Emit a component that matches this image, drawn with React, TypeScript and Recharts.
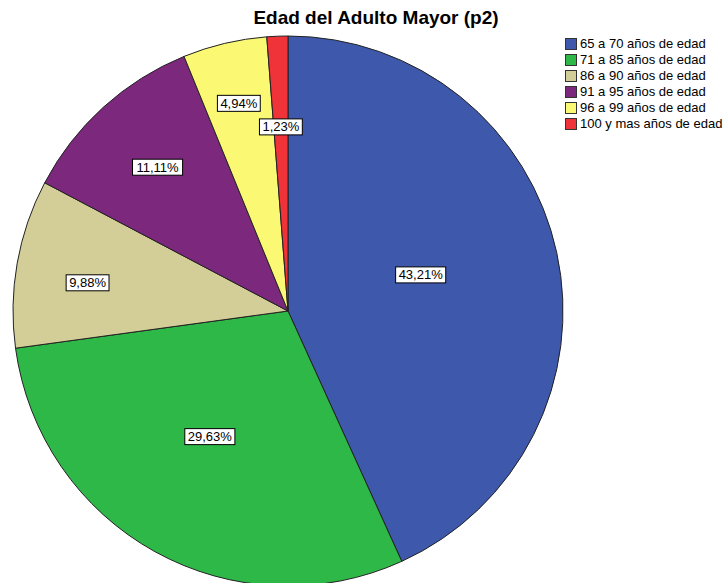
import { PieChart, Pie, Cell, Legend } from "recharts";

const categories = [
  "65 a 70 años de edad",
  "71 a 85 años de edad",
  "86 a 90 años de edad",
  "91 a 95 años de edad",
  "96 a 99 años de edad",
  "100 y mas años de edad",
];
const percents = [43.21, 29.63, 9.88, 11.11, 4.94, 1.23];
const colors = ["#3E58AC", "#2EB848", "#D3CE97", "#7C287D", "#FBF873", "#EF3338"];

// label placement: fraction of radius and small angle nudge (deg, counter-clockwise)
const labelRadius = [0.5, 0.538, 0.736, 0.706, 0.776, 0.67];
const labelNudge = [3, -3, 2, 0, 0, 0];

const data = categories.map((name, i) => ({ name, value: percents[i] }));

const RADIAN = Math.PI / 180;
const fmt = (v: number) => v.toFixed(2).replace(".", ",") + "%";
const FONT = "Liberation Sans, Arial, sans-serif";

function textWidth(s: string) {
  let w = 0;
  for (const ch of s) w += ch === "," ? 3.61 : ch === "%" ? 11.56 : 7.23;
  return w;
}

function SliceLabel(props: any) {
  const { cx, cy, midAngle, outerRadius, index, value } = props;
  const r = outerRadius * labelRadius[index];
  const a = (midAngle + labelNudge[index]) * RADIAN;
  const x = cx + r * Math.cos(-a);
  const y = cy + r * Math.sin(-a);
  const txt = fmt(value);
  const w = textWidth(txt) + 6;
  return (
    <g>
      <rect x={x - w / 2} y={y - 8} width={w} height={16} fill="#fff" stroke="#000" strokeWidth={1} />
      <text x={x} y={y + 4.6} textAnchor="middle" fontSize={13} fontFamily={FONT} fill="#000">
        {txt}
      </text>
    </g>
  );
}

function LegendBox() {
  return (
    <div style={{ fontFamily: FONT, fontSize: 13, color: "#000" }}>
      {categories.map((c, i) => (
        <div key={c} style={{ display: "flex", alignItems: "center", height: 16 }}>
          <span style={{ width: 10, height: 10, background: colors[i], border: "1px solid #333", marginRight: 3, flexShrink: 0 }} />
          <span style={{ lineHeight: "16px", whiteSpace: "nowrap" }}>{c}</span>
        </div>
      ))}
    </div>
  );
}

export default function App() {
  return (
    <div style={{ position: "absolute", left: 0, top: 0, width: 723, height: 583, background: "#fff", overflow: "hidden" }}>
      <div
        style={{
          position: "absolute",
          left: 0,
          top: 7,
          width: 752,
          textAlign: "center",
          fontFamily: FONT,
          fontWeight: "bold",
          fontSize: 19,
          color: "#000",
        }}
      >
        Edad del Adulto Mayor (p2)
      </div>
      <PieChart width={723} height={583} margin={{ top: 0, right: 0, bottom: 0, left: 0 }}>
        <Pie
          data={data}
          dataKey="value"
          nameKey="name"
          cx={288}
          cy={311}
          outerRadius={275}
          startAngle={90}
          endAngle={-270}
          stroke="#222"
          strokeWidth={1}
          label={SliceLabel}
          labelLine={false}
          isAnimationActive={false}
        >
          {data.map((d, i) => (
            <Cell key={d.name} fill={colors[i]} />
          ))}
        </Pie>
        <Legend content={<LegendBox />} wrapperStyle={{ position: "absolute", left: 565, top: 36, width: 160 }} />
      </PieChart>
    </div>
  );
}
